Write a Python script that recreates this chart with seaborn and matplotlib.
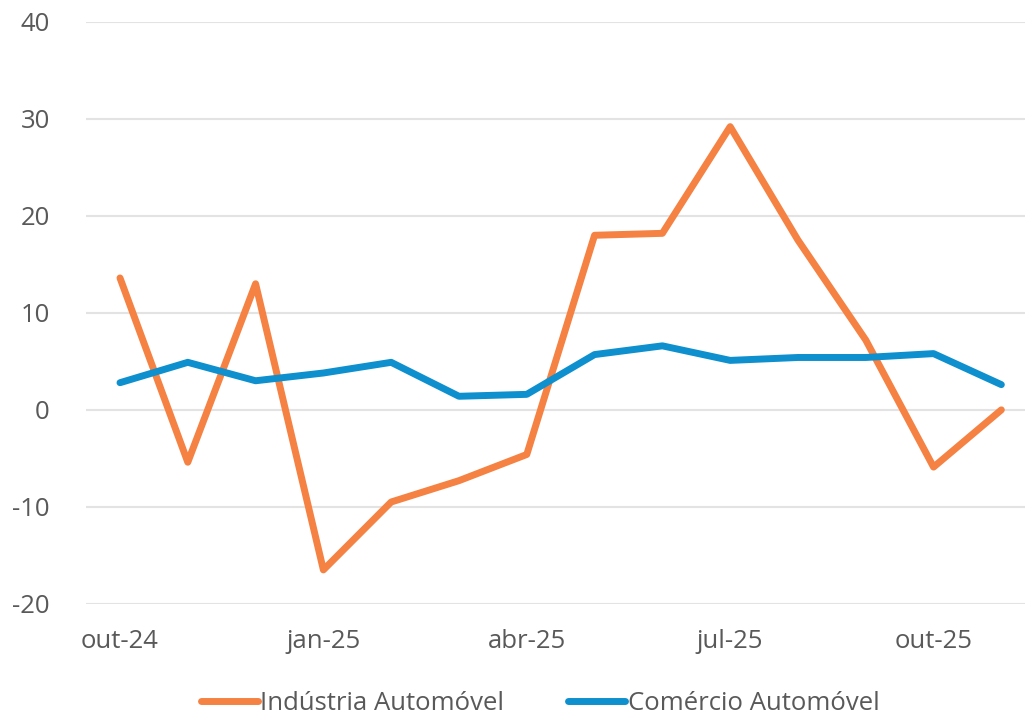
import matplotlib.pyplot as plt
import pandas as pd
import seaborn as sns

months = ["out-24", "nov-24", "dez-24", "jan-25", "fev-25", "mar-25", "abr-25",
          "mai-25", "jun-25", "jul-25", "ago-25", "set-25", "out-25", "nov-25"]
industria = [13.6, -5.4, 13.0, -16.5, -9.5, -7.3, -4.6, 18.0, 18.2, 29.2, 17.5, 7.2, -5.9, 0.0]
comercio = [2.8, 4.9, 3.0, 3.8, 4.9, 1.4, 1.6, 5.7, 6.6, 5.1, 5.4, 5.4, 5.8, 2.6]
tick_months = ["out-24", "jan-25", "abr-25", "jul-25", "out-25"]

TEXT = "#595959"
ORANGE = "#F58142"
BLUE = "#0E8FCE"


def main():
    sns.set_theme(style="white")
    plt.rcParams["font.family"] = ["Open Sans", "DejaVu Sans"]
    plt.rcParams["axes.unicode_minus"] = False

    data = pd.DataFrame({
        "mes": months * 2,
        "valor": industria + comercio,
        "serie": ["Indústria Automóvel"] * len(months) + ["Comércio Automóvel"] * len(months),
    })

    fig = plt.figure(figsize=(10.25, 7.18), dpi=100)
    ax = fig.add_axes([0.084, 0.159, 0.926, 0.8105])
    sns.lineplot(data=data, x="mes", y="valor", hue="serie", sort=False,
                 palette=[ORANGE, BLUE], linewidth=5, ax=ax, legend=True)
    for line in ax.lines:
        line.set_solid_capstyle("round")
        line.set_solid_joinstyle("round")

    ax.set_xlim(-0.5, len(months) - 0.5)
    ax.set_ylim(-20, 40)
    ax.set_yticks(range(-20, 41, 10))
    ax.set_xticks([months.index(m) for m in tick_months])
    ax.set_xticklabels(tick_months)
    ax.grid(axis="y", color="#e3e3e3", linewidth=1.5)
    ax.set_axisbelow(True)
    for side in ["top", "right", "left", "bottom"]:
        ax.spines[side].set_visible(False)
    ax.set_xlabel("")
    ax.set_ylabel("")
    ax.tick_params(axis="both", colors=TEXT, labelsize=18.5, length=0)
    ax.tick_params(axis="y", pad=26)
    ax.tick_params(axis="x", pad=18)

    handles, labels = ax.get_legend_handles_labels()
    ax.get_legend().remove()
    fig.legend(handles, labels, loc="lower center", bbox_to_anchor=(0.527, -0.03), ncol=2,
               frameon=False, fontsize=18.5, labelcolor=TEXT, handlelength=2.2,
               handletextpad=0.1, columnspacing=2.5)

    fig.savefig("out.png", dpi=100)
    plt.close(fig)


if __name__ == "__main__":
    main()
